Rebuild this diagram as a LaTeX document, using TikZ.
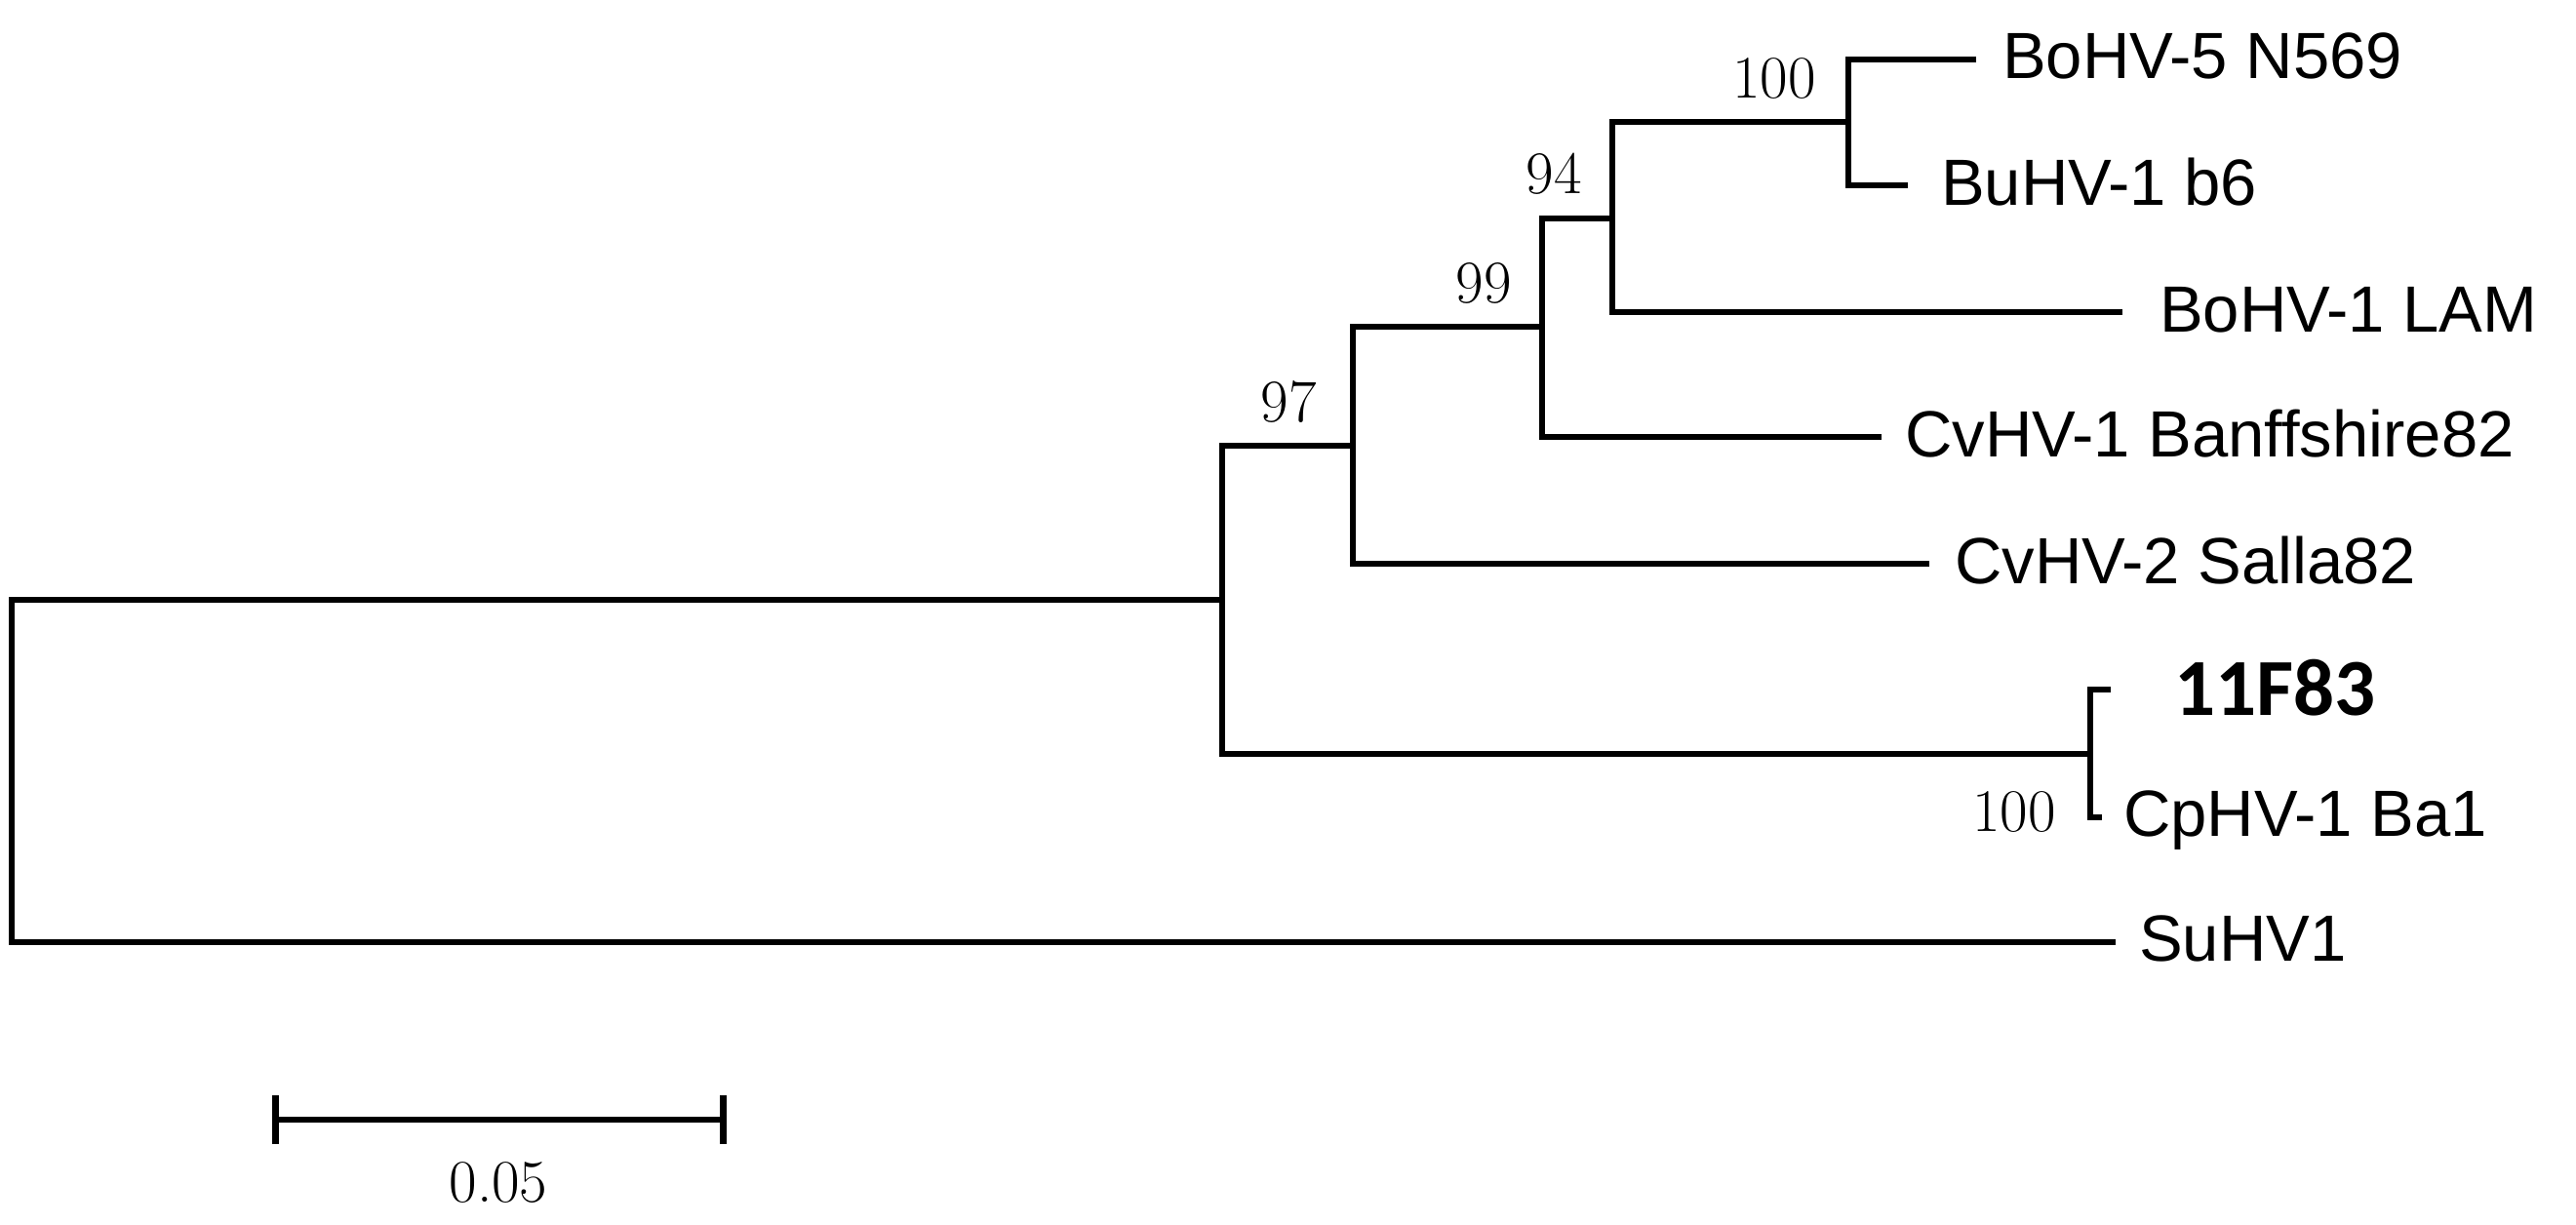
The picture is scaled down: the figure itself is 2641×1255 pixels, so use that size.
\documentclass[tikz,border=0pt]{standalone}
\usepackage{fontspec}
\newfontfamily\leaffont{Liberation Sans}
\newfontfamily\boldleaf{Carlito}
\begin{document}
\begin{tikzpicture}[x=1pt,y=-1pt,
  branch/.style={line width=6pt, line join=miter},
  leaf/.style={inner sep=0pt, anchor=base west, font=\leaffont\fontsize{67}{72}\selectfont},
  boot/.style={inner sep=0pt, anchor=base east, font=\fontsize{62}{68}\selectfont},
]
\useasboundingbox (0,0) rectangle (2641,1255);
% internal nodes
\coordinate (R) at (12,790);
\coordinate (A) at (1253,615);
\coordinate (B) at (1387,457);
\coordinate (C) at (1581,335);
\coordinate (D) at (1653,224);
\coordinate (E) at (1895,125);
\coordinate (F) at (2143,773);
% leaf ends
\coordinate (lBo5) at (2026,61);
\coordinate (lBu1) at (1956,190);
\coordinate (lLAM) at (2176,320);
\coordinate (lCv1) at (1929,448);
\coordinate (lCv2) at (1978,578);
\coordinate (l11F) at (2164,707);
\coordinate (lCp1) at (2155,838);
\coordinate (lSu) at (2169,966);
% branches
\draw[branch] (lBo5) -| (E) |- (lBu1);
\draw[branch] (E) -| (D) |- (lLAM);
\draw[branch] (D) -| (C) |- (lCv1);
\draw[branch] (C) -| (B) |- (lCv2);
\draw[branch] (B) -| (A) |- (F);
\draw[branch] (l11F) -| (F) |- (lCp1);
\draw[branch] (A) -| (R) |- (lSu);
% leaf labels
\node[leaf] (tBo5) at (2053,81) {BoHV-5 N569};
\node[leaf] (tBu1) at (1990,210) {BuHV-1 b6};
\node[leaf] (tLAM) at (2214,340) {BoHV-1 LAM};
\node[leaf] (tCv1) at (1953,468) {CvHV-1 Banffshire82};
\node[leaf] (tCv2) at (2004,598) {CvHV-2 Salla82};
\node[leaf, font=\boldleaf\bfseries\fontsize{83}{88}\selectfont] (t11F) at (2229,733) {11F83};
\node[leaf] (tCp1) at (2177,857) {CpHV-1 Ba1};
\node[leaf] (tSu) at (2193,985) {SuHV1};
% bootstrap values
\node[boot] (bE) at (1862,100) {100};
\node[boot] (bD) at (1622,198) {94};
\node[boot] (bC) at (1550,310) {99};
\node[boot] (bB) at (1350,432) {97};
\node[boot] (bF) at (2108,852) {100};
% scale bar
\coordinate (sbL) at (282,1148);
\coordinate (sbR) at (741,1148);
\draw[line width=6pt] (sbL) -- (sbR);
\draw[line width=7pt] ([yshift=-25pt]sbL) -- ([yshift=25pt]sbL);
\draw[line width=7pt] ([yshift=-25pt]sbR) -- ([yshift=25pt]sbR);
\node[boot, anchor=base] (sbT) at (511,1232) {0.05};
\end{tikzpicture}
\end{document}
